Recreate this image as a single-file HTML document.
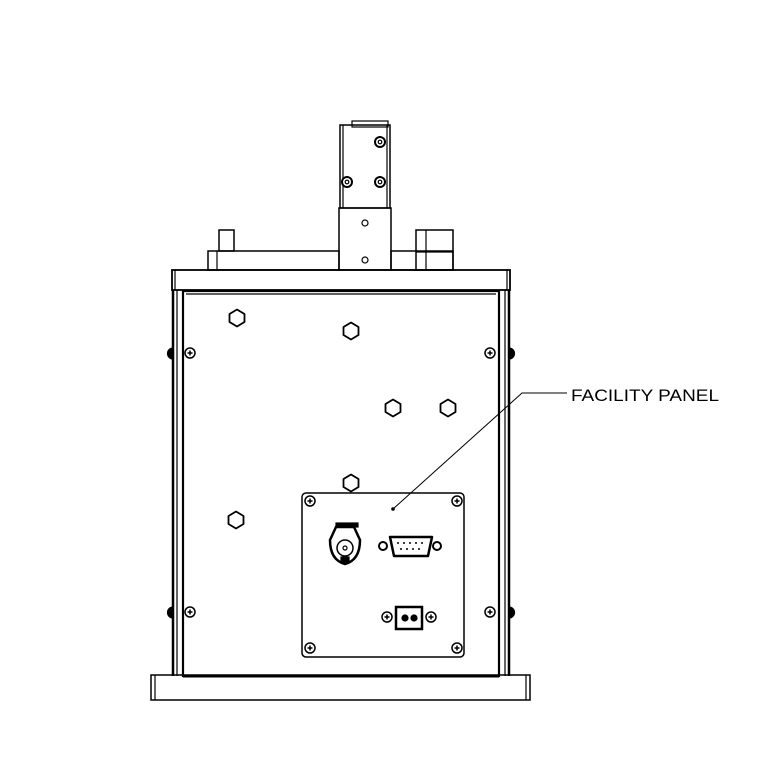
<!DOCTYPE html>
<html><head><meta charset="utf-8"><style>
html,body{margin:0;padding:0;background:#fff;}
svg{display:block;}
</style></head><body>
<svg width="765" height="772" viewBox="0 0 765 772" xmlns="http://www.w3.org/2000/svg" fill="none" stroke="#000" stroke-width="1.2">
<defs>
<g id="scr"><circle r="5" fill="#fff" stroke-width="1.5"/><path d="M-2.5,0H2.5M0,-2.5V2.5" stroke-width="1.5"/></g>
<g id="bolt"><circle r="5" fill="#fff" stroke-width="2"/><circle r="1.8" stroke-width="1.2"/></g>
<g id="hex"><polygon points="0,-8.5 7.5,-4 7.5,4 0,8.5 -7.5,4 -7.5,-4" fill="#fff" stroke-width="1.8" stroke-linejoin="round"/></g>
</defs>
<rect x="352" y="121" width="36" height="6"/>
<rect x="340" y="125" width="50" height="83" stroke-width="1.5"/>
<line x1="343" y1="125" x2="343" y2="208"/>
<line x1="387" y1="125" x2="387" y2="208"/>
<use href="#bolt" x="380" y="142"/>
<use href="#bolt" x="347" y="182"/>
<use href="#bolt" x="380" y="182"/>
<rect x="339" y="208" width="52" height="62" stroke-width="1.5"/>
<circle cx="365" cy="223" r="3"/>
<circle cx="365" cy="260" r="3"/>
<rect x="208" y="251" width="131" height="19" stroke-width="1.5"/>
<line x1="217" y1="251" x2="217" y2="270"/>
<rect x="219" y="230" width="15" height="21" stroke-width="1.5"/>
<rect x="391" y="251" width="62" height="19" stroke-width="1.5"/>
<rect x="416" y="230" width="37" height="40" stroke-width="1.5"/>
<line x1="426" y1="230" x2="426" y2="270"/>
<line x1="416" y1="252" x2="453" y2="252"/>
<rect x="172" y="270" width="338" height="20" stroke-width="1.8"/>
<line x1="175" y1="270" x2="175" y2="290"/>
<line x1="507" y1="270" x2="507" y2="290"/>
<line x1="173" y1="290" x2="173" y2="676" stroke-width="2.5"/>
<line x1="509" y1="290" x2="509" y2="676" stroke-width="2.5"/>
<line x1="177" y1="290" x2="177" y2="676"/>
<line x1="505" y1="290" x2="505" y2="676"/>
<rect x="183" y="291" width="316" height="385" stroke-width="2.2"/>
<line x1="186" y1="294" x2="496" y2="294"/>
<line x1="183" y1="676" x2="499" y2="676" stroke-width="3"/>
<path d="M173,348 a5,5 0 0 0 0,11Z" fill="#000"/>
<path d="M509,348 a5,5 0 0 1 0,11Z" fill="#000"/>
<path d="M173,607 a5,5 0 0 0 0,11Z" fill="#000"/>
<path d="M509,607 a5,5 0 0 1 0,11Z" fill="#000"/>
<use href="#scr" x="190" y="353"/>
<use href="#scr" x="490" y="353"/>
<use href="#scr" x="190" y="612"/>
<use href="#scr" x="490" y="612"/>
<use href="#hex" x="237" y="318"/>
<use href="#hex" x="351" y="331"/>
<use href="#hex" x="393" y="408"/>
<use href="#hex" x="448" y="408"/>
<use href="#hex" x="351" y="483"/>
<use href="#hex" x="236" y="520"/>
<rect x="151" y="675" width="379" height="25" stroke-width="1.5"/>
<line x1="155" y1="675" x2="155" y2="700"/>
<line x1="526" y1="675" x2="526" y2="700"/>
<rect x="302" y="493" width="162" height="164" rx="4" fill="#fff" stroke-width="1.5"/>
<use href="#scr" x="310" y="501"/>
<use href="#scr" x="457" y="501"/>
<use href="#scr" x="310" y="648"/>
<use href="#scr" x="457" y="648"/>
<rect x="336" y="523" width="22" height="4" fill="#000"/>
<path d="M336,527 L330,540 Q330,560 345,564 Q360,560 360,540 L354,527Z" stroke-width="2.5" fill="#fff"/>
<circle cx="345" cy="548" r="8" stroke-width="1.5"/>
<circle cx="345" cy="548" r="2"/>
<rect x="341" y="557" width="8" height="5" fill="#000"/>
<circle cx="383" cy="546" r="4" stroke-width="2"/>
<circle cx="437" cy="546" r="4" stroke-width="2"/>
<path d="M390,537 H432 L428,556 H394Z" stroke-width="2.5" stroke-linejoin="round"/>
<g fill="#000" stroke="none"><circle cx="398" cy="543" r="1"/><circle cx="404" cy="543" r="1"/><circle cx="410" cy="543" r="1"/><circle cx="416" cy="543" r="1"/><circle cx="422" cy="543" r="1"/><circle cx="401" cy="549" r="1"/><circle cx="407" cy="549" r="1"/><circle cx="413" cy="549" r="1"/><circle cx="419" cy="549" r="1"/></g>
<use href="#scr" x="387" y="617"/>
<use href="#scr" x="431" y="617"/>
<rect x="396" y="607" width="26" height="22" stroke-width="2.5"/>
<circle cx="405" cy="618" r="3" fill="#000"/>
<circle cx="414" cy="618" r="3" fill="#000"/>
<circle cx="393" cy="509" r="1.2" fill="#000"/>
<polyline points="393,509 522,393 567,393" stroke-width="1"/>
<text x="571" y="401" font-family="Liberation Sans, sans-serif" font-size="17" textLength="148" lengthAdjust="spacingAndGlyphs" fill="#000" stroke="none">FACILITY PANEL</text>
</svg>
</body></html>
